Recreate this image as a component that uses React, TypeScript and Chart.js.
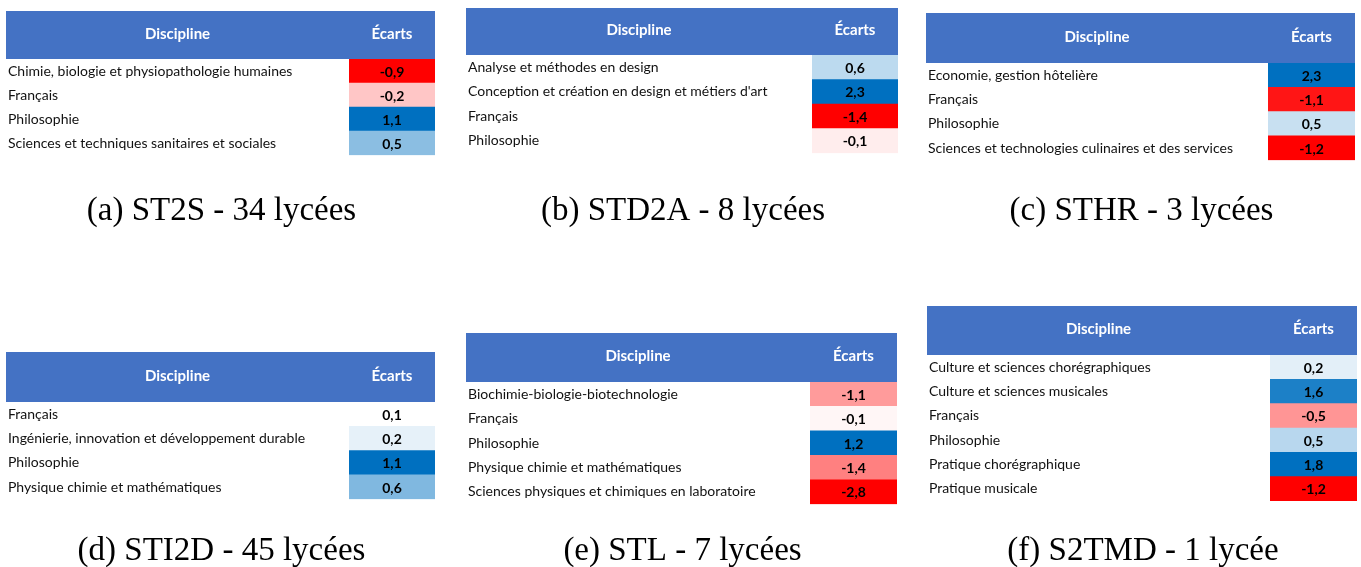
import React, { useEffect, useRef } from 'react';
import { Chart, registerables } from 'chart.js';

Chart.register(...registerables);

// ---------- data ----------
const catsA = ['Chimie, biologie et physiopathologie humaines', 'Français', 'Philosophie', 'Sciences et techniques sanitaires et sociales'];
const valsA = [-0.9, -0.2, 1.1, 0.5];

const catsB = ['Analyse et méthodes en design', "Conception et création en design et métiers d'art", 'Français', 'Philosophie'];
const valsB = [0.6, 2.3, -1.4, -0.1];

const catsC = ['Economie, gestion hôtelière', 'Français', 'Philosophie', 'Sciences et technologies culinaires et des services'];
const valsC = [2.3, -1.1, 0.5, -1.2];

const catsD = ['Français', 'Ingénierie, innovation et développement durable', 'Philosophie', 'Physique chimie et mathématiques'];
const valsD = [0.1, 0.2, 1.1, 0.6];

const catsE = ['Biochimie-biologie-biotechnologie', 'Français', 'Philosophie', 'Physique chimie et mathématiques', 'Sciences physiques et chimiques en laboratoire'];
const valsE = [-1.1, -0.1, 1.2, -1.4, -2.8];

const catsF = ['Culture et sciences chorégraphiques', 'Culture et sciences musicales', 'Français', 'Philosophie', 'Pratique chorégraphique', 'Pratique musicale'];
const valsF = [0.2, 1.6, -0.5, 0.5, 1.8, -1.2];

const captions = ['(a) ST2S - 34 lycées', '(b) STD2A - 8 lycées', '(c) STHR - 3 lycées', '(d) STI2D - 45 lycées', '(e) STL - 7 lycées', '(f) S2TMD - 1 lycée'];
const headerLabels = ['Discipline', 'Écarts'];

// ---------- layout (positions / sizes) ----------
const panels = [
  { cats: catsA, vals: valsA, cap: captions[0], left: 6, top: 11, width: 429, headerH: 48, cellX: 343, rowH: 24, capCenter: 211 },
  { cats: catsB, vals: valsB, cap: captions[1], left: 466, top: 8, width: 432, headerH: 47, cellX: 346, rowH: 24.5, capCenter: 211 },
  { cats: catsC, vals: valsC, cap: captions[2], left: 926, top: 13, width: 429, headerH: 50, cellX: 342, rowH: 24.25, capCenter: 211 },
  { cats: catsD, vals: valsD, cap: captions[3], left: 6, top: 352, width: 429, headerH: 50, cellX: 343, rowH: 24.25, capCenter: 551 },
  { cats: catsE, vals: valsE, cap: captions[4], left: 466, top: 333, width: 431, headerH: 49, cellX: 344, rowH: 24.4, capCenter: 551 },
  { cats: catsF, vals: valsF, cap: captions[5], left: 927, top: 306, width: 430, headerH: 49, cellX: 343, rowH: 24.3, capCenter: 551 },
];

const TABLE_FONT = 'Lato, "Open Sans", sans-serif';
const CAP_SIZE = 33;
const CAP_LINE = 1.2;
const PAD_LEFT = 2;

function cellColor(v: number, vals: number[]): string {
  const min = Math.min(...vals);
  const max = Math.max(...vals);
  const white = [255, 255, 255];
  let target = [0, 112, 192];
  let t = 0;
  if (v >= 0) {
    const lo = Math.max(0, min);
    t = max > lo ? (v - lo) / (max - lo) : 0;
  } else {
    target = [255, 0, 0];
    t = min < 0 ? v / min : 0;
  }
  const c = white.map((w, i) => Math.round(w + (target[i] - w) * t));
  return `rgb(${c[0]},${c[1]},${c[2]})`;
}

const fmt = (v: number) => v.toFixed(1).replace('.', ',');

const tablePlugin = {
  id: 'tablePlugin',
  beforeDraw(chart: any, _args: any, opts: any) {
    const { ctx, chartArea } = chart;
    ctx.save();
    ctx.fillStyle = '#4472C4';
    ctx.fillRect(0, 0, chart.width, opts.headerH);
    ctx.fillStyle = '#ffffff';
    ctx.font = `bold 15px ${TABLE_FONT}`;
    ctx.textAlign = 'center';
    ctx.textBaseline = 'middle';
    ctx.fillText(headerLabels[0], chartArea.left / 2, opts.headerH / 2 - 1);
    ctx.fillText(headerLabels[1], (chartArea.left + chartArea.right) / 2, opts.headerH / 2 - 1);
    ctx.restore();
  },
  afterDatasetsDraw(chart: any, _args: any, opts: any) {
    const { ctx } = chart;
    const meta = chart.getDatasetMeta(0);
    ctx.save();
    ctx.fillStyle = '#000000';
    ctx.font = `bold 14px ${TABLE_FONT}`;
    ctx.textAlign = 'center';
    ctx.textBaseline = 'middle';
    meta.data.forEach((el: any, i: number) => {
      const cx = (el.x + el.base) / 2;
      ctx.fillText(fmt(opts.vals[i]), cx, el.y + 1);
    });
    ctx.restore();
  },
};

function Panel({ p }: { p: typeof panels[number] }) {
  const ref = useRef<HTMLCanvasElement | null>(null);
  const rowsEnd = p.headerH + p.cats.length * p.rowH;
  const padTop = p.capCenter - p.top - rowsEnd - (CAP_SIZE * CAP_LINE) / 2;
  const padBottom = 4;
  const height = Math.round(rowsEnd + padTop + CAP_SIZE * CAP_LINE + padBottom);

  useEffect(() => {
    if (!ref.current) return;
    const chart = new Chart(ref.current, {
      type: 'bar',
      data: {
        labels: p.cats,
        datasets: [
          {
            data: p.cats.map(() => 1),
            backgroundColor: (c: any) => cellColor(p.vals[c.dataIndex], p.vals),
            borderWidth: 0,
            barPercentage: 1,
            categoryPercentage: 1,
          },
        ],
      },
      options: {
        indexAxis: 'y',
        animation: false,
        responsive: false,
        layout: { padding: { left: PAD_LEFT, top: p.headerH, right: 0, bottom: 0 } },
        scales: {
          x: { display: false, min: 0, max: 1 },
          y: {
            grid: { display: false },
            border: { display: false },
            afterFit: (scale: any) => {
              scale.width = p.cellX - PAD_LEFT;
            },
            ticks: {
              autoSkip: false,
              crossAlign: 'far',
              padding: 0,
              color: '#111111',
              font: { family: TABLE_FONT, size: 14 },
            },
          },
        },
        plugins: {
          legend: { display: false },
          tooltip: { enabled: false },
          title: {
            display: true,
            position: 'bottom',
            text: p.cap,
            color: '#000000',
            font: { family: '"Liberation Serif", serif', size: CAP_SIZE, weight: 'normal', lineHeight: CAP_LINE },
            padding: { top: padTop, bottom: padBottom },
          },
          tablePlugin: { headerH: p.headerH, vals: p.vals },
        } as any,
      },
      plugins: [tablePlugin],
    } as any);
    return () => chart.destroy();
  }, []);

  return (
    <canvas
      ref={ref}
      width={p.width}
      height={height}
      style={{ position: 'absolute', left: p.left, top: p.top, width: p.width, height }}
    />
  );
}

export default function App() {
  return (
    <div
      style={{
        position: 'absolute',
        left: 0,
        top: 0,
        width: 1361,
        height: 567,
        overflow: 'hidden',
        background: '#ffffff',
      }}
    >
      {panels.map((p, i) => (
        <Panel key={i} p={p} />
      ))}
    </div>
  );
}
